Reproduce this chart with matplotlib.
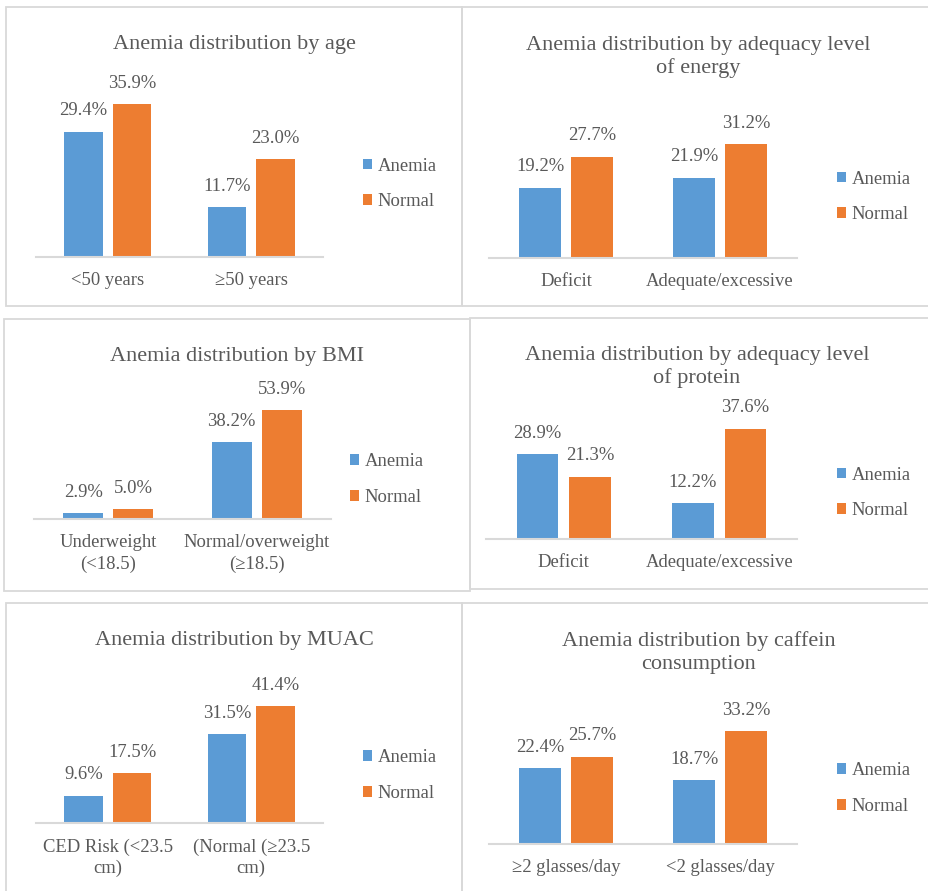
import matplotlib
matplotlib.use("Agg")
import matplotlib.pyplot as plt
from matplotlib.patches import Rectangle

plt.rcParams['font.family'] = ['Liberation Serif', 'DejaVu Serif']

W, H = 929, 891
BLUE = '#5B9BD5'
ORANGE = '#ED7D31'
TEXT = '#595959'
GRID = '#D9D9D9'

series_names = ["Anemia", "Normal"]

age_title = "Anemia distribution by age"
age_categories = ["<50 years", "≥50 years"]
age_anemia = [29.4, 11.7]
age_normal = [35.9, 23.0]

energy_title = "Anemia distribution by adequacy level\nof energy"
energy_categories = ["Deficit", "Adequate/excessive"]
energy_anemia = [19.2, 21.9]
energy_normal = [27.7, 31.2]

bmi_title = "Anemia distribution by BMI"
bmi_categories = ["Underweight\n(<18.5)", "Normal/overweight\n(≥18.5)"]
bmi_anemia = [2.9, 38.2]
bmi_normal = [5.0, 53.9]

protein_title = "Anemia distribution by adequacy level\nof protein"
protein_categories = ["Deficit", "Adequate/excessive"]
protein_anemia = [28.9, 12.2]
protein_normal = [21.3, 37.6]

muac_title = "Anemia distribution by MUAC"
muac_categories = ["CED Risk (<23.5\ncm)", "(Normal (≥23.5\ncm)"]
muac_anemia = [9.6, 31.5]
muac_normal = [17.5, 41.4]

caff_title = "Anemia distribution by caffein\nconsumption"
caff_categories = ["≥2 glasses/day", "<2 glasses/day"]
caff_anemia = [22.4, 18.7]
caff_normal = [25.7, 33.2]

# layout (pixels)
panels = [
    dict(title=age_title, cats=age_categories, a=age_anemia, n=age_normal,
         box=(5.7, 7, 462, 306), ax=(36, 323), yaxis=257, scale=4.26, ymax=40,
         tx=234.5, ty=45, lx=363, ly=184),
    dict(title=energy_title, cats=energy_categories, a=energy_anemia, n=energy_normal,
         box=(462, 7, 931, 306), ax=(489, 797), yaxis=257.5, scale=3.64, ymax=35,
         tx=698.5, ty=57, lx=837, ly=197),
    dict(title=bmi_title, cats=bmi_categories, a=bmi_anemia, n=bmi_normal,
         box=(4, 319, 470, 591), ax=(34, 331), yaxis=519, scale=2.02, ymax=60,
         tx=237.5, ty=356, lx=350, ly=479.5),
    dict(title=protein_title, cats=protein_categories, a=protein_anemia, n=protein_normal,
         box=(470, 318, 931, 589), ax=(486, 797), yaxis=539, scale=2.93, ymax=40,
         tx=697, ty=367, lx=837, ly=493),
    dict(title=muac_title, cats=muac_categories, a=muac_anemia, n=muac_normal,
         box=(6, 603, 462, 893), ax=(36, 323), yaxis=823, scale=2.83, ymax=45,
         tx=234, ty=640, lx=363, ly=775.5),
    dict(title=caff_title, cats=caff_categories, a=caff_anemia, n=caff_normal,
         box=(462, 603, 931, 893), ax=(489, 797), yaxis=844, scale=3.40, ymax=35,
         tx=698.5, ty=652.5, lx=837, ly=788.5),
]

fig = plt.figure(figsize=(W / 100, H / 100), dpi=100)
fig.patch.set_facecolor('white')

FS = 13.4
TFS = 16

for p in panels:
    bx0, by0, bx1, by1 = p['box']
    fig.patches.append(Rectangle((bx0 / W, 1 - by1 / H), (bx1 - bx0) / W, (by1 - by0) / H,
                                 transform=fig.transFigure, fill=False,
                                 edgecolor=GRID, linewidth=1.3, zorder=0))
    x0, x1 = p['ax']
    top = p['yaxis'] - p['scale'] * p['ymax']
    ax = fig.add_axes([x0 / W, 1 - p['yaxis'] / H, (x1 - x0) / W, (p['yaxis'] - top) / H])
    ax.set_facecolor('none')
    xs = list(range(len(p['cats'])))
    bw = 0.268
    off = 0.169
    b1 = ax.bar([x - off for x in xs], p['a'], width=bw, color=BLUE, label=series_names[0])
    b2 = ax.bar([x + off for x in xs], p['n'], width=bw, color=ORANGE, label=series_names[1])
    for bars, vals in ((b1, p['a']), (b2, p['n'])):
        for r, v in zip(bars, vals):
            ax.annotate(f"{v:.1f}%", (r.get_x() + r.get_width() / 2, v),
                        xytext=(0, 15), textcoords='offset points',
                        ha='center', va='center', fontsize=FS, color=TEXT)
    ax.set_xlim(-0.5, len(xs) - 0.5)
    ax.set_ylim(0, p['ymax'])
    ax.set_xticks(xs)
    ax.set_xticklabels(p['cats'], fontsize=FS, color=TEXT, linespacing=1.32)
    ax.tick_params(axis='x', length=0, pad=11)
    ax.set_yticks([])
    for s in ('top', 'right', 'left'):
        ax.spines[s].set_visible(False)
    ax.spines['bottom'].set_color(GRID)
    ax.spines['bottom'].set_linewidth(1.5)
    fig.text(p['tx'] / W, 1 - p['ty'] / H, p['title'], ha='center', va='center',
             fontsize=TFS, color=TEXT, linespacing=1.27)
    ax.legend(handles=[b1, b2], labels=series_names, loc='center left',
              bbox_to_anchor=(p['lx'] / W, 1 - p['ly'] / H), bbox_transform=fig.transFigure,
              frameon=False, borderpad=0, borderaxespad=0, handlelength=0.5,
              handleheight=0.5, handletextpad=0.3, labelspacing=1.0,
              prop={'size': FS}, labelcolor=TEXT)

fig.savefig('out.png', dpi=100, facecolor='white')
